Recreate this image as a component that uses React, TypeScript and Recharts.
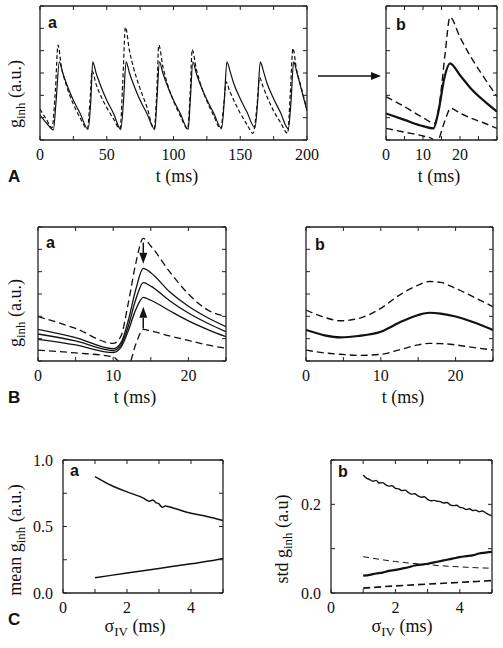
import React from 'react';
import { LineChart, Line, XAxis, YAxis, ReferenceLine } from 'recharts';

const SERIF = '"Liberation Serif", "DejaVu Serif", serif';
const SANS = '"Liberation Sans", Arial, sans-serif';
const INK = '#111';

// ---- A a: g_inh (a.u.) over 200 ms, solid vs dashed trace
const aaSolidT = [0, 5, 10, 12, 14.5, 17, 20, 25, 30, 36, 38, 39.5, 42, 45, 50, 55, 60.5, 62.5, 64.5, 67, 70, 75, 80, 86, 87.5, 89.5, 92, 95, 100, 105, 111, 112.5, 114.5, 117, 120, 125, 130, 136, 138, 140, 142.5, 145, 150, 155, 161, 163, 165, 167.5, 170, 175, 180, 186, 188, 190, 192.5, 195, 200];
const aaSolidG = [1.12, 0.75, 0.45, 1.7, 3.5, 3.0, 2.5, 1.78, 1.2, 0.48, 1.7, 3.5, 3.0, 2.5, 1.78, 1.2, 0.48, 1.7, 3.5, 3.0, 2.5, 1.78, 1.2, 0.48, 1.7, 3.5, 3.0, 2.5, 1.78, 1.2, 0.48, 1.7, 3.5, 3.0, 2.5, 1.8, 1.22, 0.52, 1.7, 3.5, 3.05, 2.55, 1.85, 1.25, 0.55, 1.7, 3.5, 3.05, 2.55, 1.85, 1.25, 0.5, 1.7, 3.5, 3.0, 2.45, 1.3];
const aaDashT = [0, 5, 9, 11.5, 13.5, 16, 20, 25, 30, 35.5, 37.5, 39, 42, 45, 50, 55, 60, 62, 64, 67, 70, 75, 80, 85.5, 87.5, 89, 92, 95, 100, 105, 110.5, 112.5, 114, 117, 120, 125, 130, 135.5, 137.5, 139.5, 142, 145, 150, 155, 159.5, 162.5, 164.5, 167, 170, 175, 180, 185.5, 187.5, 189.5, 192, 195, 200];
const aaDashG = [1.38, 0.9, 0.55, 2.2, 4.25, 3.3, 2.4, 1.6, 1.0, 0.5, 1.8, 3.1, 2.5, 2.05, 1.45, 0.95, 0.5, 2.6, 5.05, 4.0, 3.25, 2.3, 1.5, 0.5, 2.2, 4.25, 3.3, 2.6, 1.75, 1.1, 0.5, 2.1, 4.05, 3.2, 2.55, 1.75, 1.1, 0.5, 1.5, 2.6, 2.2, 1.8, 1.2, 0.7, 0.3, 1.5, 2.8, 2.4, 1.95, 1.3, 0.8, 0.3, 2.1, 4.1, 3.2, 2.5, 1.38];

// ---- A b: one cycle, mean +/- std
const abUpT = [0, 5, 10, 13.1, 14.5, 16, 17.3, 20, 23, 26.5, 30];
const abUp = [1.94, 1.49, 1.0, 0.75, 1.7, 3.9, 5.5, 4.6, 3.7, 2.8, 1.94];
const abMidT = [0, 5, 10, 12.8, 14.2, 15.8, 17.3, 20, 23, 26.5, 30];
const abMid = [1.19, 0.9, 0.62, 0.52, 1.3, 2.8, 3.43, 2.9, 2.3, 1.75, 1.27];
const abLowT = [0, 5, 10, 12.5, 13.3, 14.2, 16, 17.5, 20, 23, 26.5, 30];
const abLow = [0.52, 0.35, 0.18, 0.05, -0.3, 0.0, 0.9, 1.42, 1.2, 0.98, 0.76, 0.52];

// ---- B a
const baT = [0, 5, 10, 11, 12, 13, 14, 15, 17.5, 20, 22.5, 25];
const baUp = [1.99, 1.46, 0.79, 1.09, 2.58, 4.37, 5.49, 5.15, 4.0, 3.0, 2.3, 1.99];
const baS1 = [1.42, 1.05, 0.55, 0.8, 1.8, 3.2, 4.15, 3.95, 3.1, 2.45, 1.95, 1.54];
const baS2 = [1.21, 0.9, 0.47, 0.7, 1.55, 2.75, 3.51, 3.35, 2.7, 2.15, 1.7, 1.31];
const baS3 = [0.97, 0.72, 0.38, 0.6, 1.35, 2.3, 2.85, 2.72, 2.25, 1.8, 1.42, 1.09];
const baLow = [0.49, 0.36, 0.18, -0.1, -0.2, 0.75, 1.42, 1.35, 1.12, 0.92, 0.72, 0.57];

// ---- B b
const bbT = [0, 2.5, 4.6, 7, 10, 12.5, 15, 16.5, 18, 20, 22.5, 25];
const bbUp = [2.28, 1.95, 1.8, 1.9, 2.36, 2.95, 3.4, 3.56, 3.52, 3.25, 2.85, 2.43];
const bbMid = [1.39, 1.15, 1.06, 1.12, 1.31, 1.72, 2.06, 2.16, 2.12, 1.99, 1.72, 1.39];
const bbLow = [0.49, 0.36, 0.3, 0.25, 0.3, 0.5, 0.72, 0.79, 0.78, 0.72, 0.6, 0.49];

// ---- C a: mean g_inh vs sigma_IV
const caUpS = [1, 1.5, 2, 2.5, 2.7, 2.8, 2.9, 3.0, 3.1, 3.2, 3.5, 4, 4.5, 5];
const caUp = [0.875, 0.81, 0.76, 0.715, 0.69, 0.7, 0.68, 0.67, 0.645, 0.655, 0.635, 0.6, 0.575, 0.545];
const caLowS = [1, 2, 3, 4, 4.8, 5];
const caLow = [0.115, 0.15, 0.185, 0.22, 0.25, 0.26];

// ---- C b: std g_inh vs sigma_IV
const cbTopS = [1, 1.1, 1.2, 1.3, 1.4, 1.5, 1.6, 1.7, 1.8, 1.9, 2, 2.1, 2.2, 2.3, 2.4, 2.5, 2.6, 2.7, 2.8, 2.9, 3, 3.1, 3.2, 3.3, 3.4, 3.5, 3.6, 3.7, 3.8, 3.9, 4, 4.1, 4.2, 4.3, 4.4, 4.5, 4.6, 4.7, 4.8, 4.9, 5];
const cbTop = [0.266, 0.259, 0.256, 0.252, 0.254, 0.248, 0.249, 0.244, 0.241, 0.242, 0.236, 0.235, 0.231, 0.232, 0.227, 0.223, 0.224, 0.219, 0.216, 0.217, 0.211, 0.208, 0.209, 0.207, 0.206, 0.203, 0.204, 0.199, 0.197, 0.198, 0.193, 0.192, 0.188, 0.19, 0.186, 0.187, 0.183, 0.185, 0.181, 0.177, 0.174];
const cbRiseS = [1, 1.2, 1.4, 1.6, 1.8, 2, 2.2, 2.4, 2.6, 2.8, 3, 3.2, 3.4, 3.6, 3.8, 4, 4.2, 4.4, 4.6, 4.8, 5];
const cbRise = [0.039, 0.041, 0.044, 0.046, 0.05, 0.052, 0.055, 0.058, 0.062, 0.064, 0.066, 0.069, 0.072, 0.075, 0.078, 0.081, 0.083, 0.085, 0.089, 0.091, 0.093];
const cbDashHiS = [1, 1.5, 2, 2.5, 3, 3.5, 4, 4.5, 5];
const cbDashHi = [0.082, 0.076, 0.071, 0.067, 0.064, 0.061, 0.059, 0.057, 0.056];
const cbDashLoS = [1, 2, 3, 4, 5];
const cbDashLo = [0.011, 0.016, 0.02, 0.024, 0.028];

// ticks
const gTicks = [0, 1, 2, 3, 4, 5, 6];
const aaXTicks = [0, 25, 50, 75, 100, 125, 150, 175, 200];
const aaXShown = [0, 50, 100, 150, 200];
const abXTicks = [0, 5, 10, 15, 20, 25, 30];
const bXTicks = [0, 5, 10, 15, 20, 25];
const shortXShown = [0, 10, 20];
const cXTicks = [0, 1, 2, 3, 4, 5];
const cXShown = [0, 2, 4];
const caYTicks = [0, 0.25, 0.5, 0.75, 1];
const caYShown = [0, 0.5, 1];
const cbYTicks = [0, 0.1, 0.2, 0.3];
const cbYShown = [0, 0.2];

type Pt = { x: number; y: number };
type Series = { data: Pt[]; w: number; dash?: string };
type Title = { main: string; sub?: string; tail?: string };

const zip = (xs: number[], ys: number[]): Pt[] => xs.map((x, i) => ({ x, y: ys[i] }));

const tTitle: Title = { main: 't (ms)' };
const sigTitle: Title = { main: 'σ', sub: 'IV', tail: ' (ms)' };
const gTitle: Title = { main: 'g', sub: 'inh', tail: ' (a.u.)' };

function Rich({ t }: { t: Title }) {
  return (
    <>
      <tspan>{t.main}</tspan>
      {t.sub && <tspan fontSize={13} dy={4}>{t.sub}</tspan>}
      {t.tail && <tspan dy={t.sub ? -4 : 0}>{t.tail}</tspan>}
    </>
  );
}

// serif tick labels, only for the values listed in `shown`
function serifTick(shown: number[], fmt: (v: number) => string, dy: string) {
  return (props: any) => {
    const v = props.payload ? props.payload.value : undefined;
    if (!shown.includes(v)) return <g />;
    return (
      <text x={props.x} y={props.y} dy={dy} textAnchor={props.textAnchor} fontFamily={SERIF} fontSize={16} fill={INK}>
        {fmt(v)}
      </text>
    );
  };
}

function arrowShape(props: any) {
  const { x1, y1, x2, y2 } = props;
  const len = Math.hypot(x2 - x1, y2 - y1) || 1;
  const ux = (x2 - x1) / len;
  const uy = (y2 - y1) / len;
  const hl = 11;
  const hw = 4;
  const bx = x2 - ux * hl;
  const by = y2 - uy * hl;
  return (
    <g>
      <line x1={x1} y1={y1} x2={bx} y2={by} stroke={INK} strokeWidth={1.5} />
      <polygon
        points={`${x2},${y2} ${bx - uy * hw},${by + ux * hw} ${bx + uy * hw},${by - ux * hw}`}
        fill={INK}
      />
    </g>
  );
}

interface PanelProps {
  box: [number, number, number, number];
  frame: [number, number, number, number];
  xDomain: [number, number];
  xTicks: number[];
  xShown: number[];
  yDomain: [number, number];
  yTicks: number[];
  yShown: number[];
  yFmt?: (v: number) => string;
  series: Series[];
  letter: string;
  letterAt: [number, number];
  xTitle: Title;
  xTitleAt: [number, number];
  yTitle?: Title;
  yTitleAt?: [number, number];
  row?: string;
  rowAt?: [number, number];
  arrows?: [Pt, Pt][];
}

function Panel(p: PanelProps) {
  const [x0, y0, x1, y1] = p.box;
  const [cl, ct, cr, cb] = p.frame;
  const X = (v: number) => v - cl;
  const Y = (v: number) => v - ct;
  const axis = { stroke: '#222', strokeWidth: 1.3 };
  const tickLn = { stroke: '#222', strokeWidth: 1 };
  const blank = () => '';
  return (
    <div style={{ position: 'absolute', left: cl, top: ct }}>
      <LineChart width={cr - cl} height={cb - ct} margin={{ top: 0, right: 0, bottom: 0, left: 0 }}>
        <XAxis
          xAxisId="b"
          type="number"
          dataKey="x"
          domain={p.xDomain}
          ticks={p.xTicks}
          interval={0}
          allowDataOverflow
          height={cb - y1}
          tickSize={-4}
          tickMargin={13}
          axisLine={axis}
          tickLine={tickLn}
          tick={serifTick(p.xShown, (v) => String(v), '0.71em')}
        />
        <XAxis
          xAxisId="t"
          orientation="top"
          type="number"
          dataKey="x"
          domain={p.xDomain}
          ticks={p.xTicks}
          interval={0}
          allowDataOverflow
          height={y0 - ct}
          tickSize={-4}
          axisLine={axis}
          tickLine={tickLn}
          tickFormatter={blank}
        />
        <YAxis
          yAxisId="l"
          type="number"
          domain={p.yDomain}
          ticks={p.yTicks}
          interval={0}
          allowDataOverflow
          width={x0 - cl}
          tickSize={-4}
          tickMargin={14}
          axisLine={axis}
          tickLine={tickLn}
          tick={serifTick(p.yShown, p.yFmt || ((v) => String(v)), '0.355em')}
        />
        <YAxis
          yAxisId="r"
          orientation="right"
          type="number"
          domain={p.yDomain}
          ticks={p.yTicks}
          interval={0}
          allowDataOverflow
          width={cr - x1}
          tickSize={-4}
          axisLine={axis}
          tickLine={tickLn}
          tickFormatter={blank}
        />
        {p.series.map((s, i) => (
          <Line
            key={i}
            xAxisId="b"
            yAxisId="l"
            data={s.data}
            dataKey="y"
            type="monotone"
            stroke={INK}
            strokeWidth={s.w}
            strokeDasharray={s.dash}
            dot={false}
            activeDot={false}
            isAnimationActive={false}
          />
        ))}
        {(p.arrows || []).map((a, i) => (
          <ReferenceLine key={`ar${i}`} xAxisId="b" yAxisId="l" segment={a} shape={arrowShape} />
        ))}
        <g>
          <text
            x={X(x0 + p.letterAt[0])}
            y={Y(y0 + p.letterAt[1])}
            fontFamily={SANS}
            fontWeight="bold"
            fontSize={16}
            fill={INK}
          >
            {p.letter}
          </text>
          <text x={X(p.xTitleAt[0])} y={Y(p.xTitleAt[1])} textAnchor="middle" fontFamily={SERIF} fontSize={18} fill={INK}>
            <Rich t={p.xTitle} />
          </text>
          {p.yTitle && p.yTitleAt && (
            <text
              x={X(p.yTitleAt[0])}
              y={Y(p.yTitleAt[1])}
              transform={`rotate(-90 ${X(p.yTitleAt[0])} ${Y(p.yTitleAt[1])})`}
              textAnchor="middle"
              fontFamily={SERIF}
              fontSize={18}
              fill={INK}
            >
              <Rich t={p.yTitle} />
            </text>
          )}
          {p.row && p.rowAt && (
            <text x={X(p.rowAt[0])} y={Y(p.rowAt[1])} fontFamily={SANS} fontWeight="bold" fontSize={17} fill={INK}>
              {p.row}
            </text>
          )}
        </g>
      </LineChart>
    </div>
  );
}

const fmt1 = (v: number) => v.toFixed(1);

export default function App() {
  return (
    <div style={{ position: 'absolute', left: 0, top: 0, width: 503, height: 648, background: '#fff' }}>
      <Panel
        box={[40, 6, 307, 140]}
        frame={[0, 0, 326, 195]}
        xDomain={[0, 200]}
        xTicks={aaXTicks}
        xShown={aaXShown}
        yDomain={[0, 6]}
        yTicks={gTicks}
        yShown={[]}
        series={[
          { data: zip(aaSolidT, aaSolidG), w: 1.2 },
          { data: zip(aaDashT, aaDashG), w: 1.2, dash: '4 2.5' },
        ]}
        letter="a"
        letterAt={[8, 22]}
        xTitle={tTitle}
        xTitleAt={[177, 182]}
        yTitle={gTitle}
        yTitleAt={[21, 94]}
        row="A"
        rowAt={[8, 182]}
      />
      <svg style={{ position: 'absolute', left: 312, top: 68 }} width={76} height={16}>
        <line x1={6} y1={8} x2={61} y2={8} stroke={INK} strokeWidth={1.5} />
        <polygon points="59,4 69,8 59,12" fill={INK} />
      </svg>
      <Panel
        box={[386, 6, 497, 140]}
        frame={[380, 0, 503, 195]}
        xDomain={[0, 30]}
        xTicks={abXTicks}
        xShown={shortXShown}
        yDomain={[0, 6]}
        yTicks={gTicks}
        yShown={[]}
        series={[
          { data: zip(abUpT, abUp), w: 1.4, dash: '7 4' },
          { data: zip(abMidT, abMid), w: 2.2 },
          { data: zip(abLowT, abLow), w: 1.4, dash: '7 4' },
        ]}
        letter="b"
        letterAt={[10, 24]}
        xTitle={tTitle}
        xTitleAt={[439, 182]}
      />
      <Panel
        box={[38, 227, 226, 361]}
        frame={[0, 200, 240, 415]}
        xDomain={[0, 25]}
        xTicks={bXTicks}
        xShown={shortXShown}
        yDomain={[0, 6]}
        yTicks={gTicks}
        yShown={[]}
        series={[
          { data: zip(baT, baUp), w: 1.3, dash: '7 4' },
          { data: zip(baT, baS1), w: 1.3 },
          { data: zip(baT, baS2), w: 1.3 },
          { data: zip(baT, baS3), w: 1.3 },
          { data: zip(baT, baLow), w: 1.3, dash: '7 4' },
        ]}
        arrows={[
          [{ x: 14, y: 5.3 }, { x: 14, y: 4.35 }],
          [{ x: 14, y: 1.45 }, { x: 14, y: 2.43 }],
        ]}
        letter="a"
        letterAt={[8, 21]}
        xTitle={tTitle}
        xTitleAt={[135, 403]}
        yTitle={gTitle}
        yTitleAt={[21, 313]}
        row="B"
        rowAt={[8, 403]}
      />
      <Panel
        box={[306, 227, 493, 361]}
        frame={[250, 200, 503, 415]}
        xDomain={[0, 25]}
        xTicks={bXTicks}
        xShown={shortXShown}
        yDomain={[0, 6]}
        yTicks={gTicks}
        yShown={[]}
        series={[
          { data: zip(bbT, bbUp), w: 1.4, dash: '7 4' },
          { data: zip(bbT, bbMid), w: 2.2 },
          { data: zip(bbT, bbLow), w: 1.4, dash: '7 4' },
        ]}
        letter="b"
        letterAt={[9, 23]}
        xTitle={tTitle}
        xTitleAt={[403, 403]}
      />
      <Panel
        box={[63, 460, 223, 593]}
        frame={[0, 420, 240, 648]}
        xDomain={[0, 5]}
        xTicks={cXTicks}
        xShown={cXShown}
        yDomain={[0, 1]}
        yTicks={caYTicks}
        yShown={caYShown}
        yFmt={fmt1}
        series={[
          { data: zip(caUpS, caUp), w: 1.5 },
          { data: zip(caLowS, caLow), w: 1.5 },
        ]}
        letter="a"
        letterAt={[7, 16]}
        xTitle={sigTitle}
        xTitleAt={[135, 632]}
        yTitle={{ main: 'mean g', sub: 'inh', tail: ' (a.u.)' }}
        yTitleAt={[21, 540]}
        row="C"
        rowAt={[8, 625]}
      />
      <Panel
        box={[331, 460, 492, 593]}
        frame={[250, 420, 503, 648]}
        xDomain={[0, 5]}
        xTicks={cXTicks}
        xShown={cXShown}
        yDomain={[0, 0.3]}
        yTicks={cbYTicks}
        yShown={cbYShown}
        yFmt={fmt1}
        series={[
          { data: zip(cbTopS, cbTop), w: 1.4 },
          { data: zip(cbRiseS, cbRise), w: 2.2 },
          { data: zip(cbDashHiS, cbDashHi), w: 1.0, dash: '6 4' },
          { data: zip(cbDashLoS, cbDashLo), w: 1.6, dash: '7 4' },
        ]}
        letter="b"
        letterAt={[7, 17]}
        xTitle={sigTitle}
        xTitleAt={[402, 632]}
        yTitle={{ main: 'std g', sub: 'inh', tail: ' (a.u)' }}
        yTitleAt={[288, 539]}
      />
    </div>
  );
}
